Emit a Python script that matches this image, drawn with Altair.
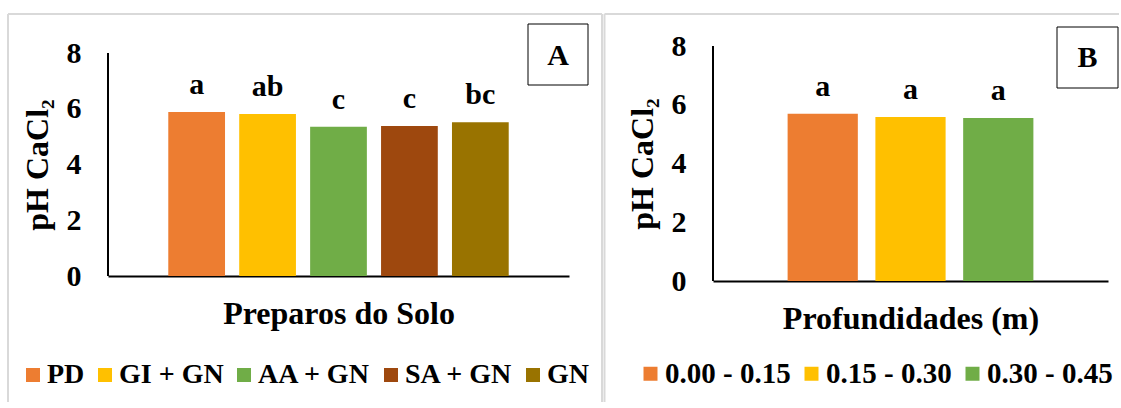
import altair as alt
import pandas as pd

# ---- data ----
cats_a = ["PD", "GI + GN", "AA + GN", "SA + GN", "GN"]
vals_a = [5.88, 5.81, 5.35, 5.38, 5.52]
letters_a = ["a", "ab", "c", "c", "bc"]
colors_a = ["#ED7D31", "#FFC000", "#70AD47", "#9E480E", "#997300"]

cats_b = ["0.00 - 0.15", "0.15 - 0.30", "0.30 - 0.45"]
vals_b = [5.69, 5.58, 5.55]
letters_b = ["a", "a", "a"]
colors_b = ["#ED7D31", "#FFC000", "#70AD47"]

y_ticks = [0, 2, 4, 6, 8]
y_title = "pH CaCl₂"

FONT = "Liberation Serif"
GRAY = "#D9D9D9"
one = pd.DataFrame({"k": [0]})


def hrule(x1, x2, yv, color=GRAY, sw=2):
    return alt.Chart(one).mark_rule(color=color, strokeWidth=sw, strokeCap="butt").encode(
        x=alt.value(x1), x2=alt.value(x2), y=alt.value(yv))


def vrule(xv, y1, y2, color=GRAY, sw=2):
    return alt.Chart(one).mark_rule(color=color, strokeWidth=sw, strokeCap="butt").encode(
        x=alt.value(xv), y=alt.value(y1), y2=alt.value(y2))


def panel(cats, vals, letters, colors, xtitle, tag, w, h, ymax, title_y,
          frame, right_rule, box, tag_xy, leg_xy, leg_font):
    df = pd.DataFrame({"cat": cats, "val": vals, "lab": letters})
    x = alt.X("cat:N", sort=cats,
              scale=alt.Scale(paddingInner=0.2, paddingOuter=0.85),
              axis=alt.Axis(labels=False, ticks=False, tickSize=0, grid=False,
                            domainColor="#000", domainWidth=2,
                            title=xtitle, titleFont=FONT, titleFontSize=32,
                            titleFontWeight="bold", titleColor="#000",
                            titleY=47, titleBaseline="alphabetic"))
    y = alt.Y("val:Q", scale=alt.Scale(domain=[0, ymax], nice=False, zero=True),
              axis=alt.Axis(values=y_ticks, ticks=False, tickSize=0, grid=False,
                            domain=False,
                            labelFont=FONT, labelFontSize=30, labelFontWeight="bold",
                            labelColor="#000", labelPadding=27, labelBound=False,
                            labelOverlap=False, labelFlush=False,
                            title=y_title, titleFont=FONT, titleFontSize=32,
                            titleFontWeight="bold", titleColor="#000",
                            titleAngle=270, titleX=-61, titleY=title_y,
                            titleBaseline="alphabetic", titleAlign="center"))
    color = alt.Color("cat:N", sort=cats,
                      scale=alt.Scale(domain=cats, range=colors),
                      legend=alt.Legend(title=None, orient="none",
                                        legendX=leg_xy[0], legendY=leg_xy[1],
                                        direction="horizontal", symbolType="square",
                                        symbolSize=196, symbolStrokeWidth=0,
                                        labelFont=FONT, labelFontSize=leg_font,
                                        labelFontWeight="bold", labelColor="#000",
                                        labelOffset=0, columnPadding=6, padding=0,
                                        labelLimit=400))
    bars = alt.Chart(df).mark_bar().encode(x=x, y=y, color=color)
    text = alt.Chart(df).mark_text(dy=-18, baseline="alphabetic", font=FONT,
                                   fontSize=30, fontWeight="bold", color="#000").encode(
        x=alt.X("cat:N", sort=cats), y="val:Q", text="lab:N")
    yline = alt.Chart(one).mark_rule(color="#000", strokeWidth=2).encode(
        x=alt.value(0), y=alt.datum(y_ticks[0]), y2=alt.datum(y_ticks[-1]))
    fx1, fx2, fy1, fy2 = frame
    deco = [hrule(fx1, fx2, fy1), vrule(fx1, fy1, fy2)]
    if right_rule is not None:
        deco.append(vrule(right_rule, fy1, fy2))
    bx1, bx2, by1, by2 = box
    boxm = alt.Chart(one).mark_rect(fill="white", stroke="#000", strokeWidth=1).encode(
        x=alt.value(bx1), x2=alt.value(bx2), y=alt.value(by1), y2=alt.value(by2))
    tagm = alt.Chart(one).mark_text(font=FONT, fontSize=30, fontWeight="bold",
                                    color="#000", baseline="alphabetic", align="center").encode(
        x=alt.value(tag_xy[0]), y=alt.value(tag_xy[1]), text=alt.value(tag))
    return alt.layer(bars, text, yline, *deco, boxm, tagm).properties(width=w, height=h)


# Both plot origins at y=46; panel A origin x=108, panel B origin x=713
pa = panel(cats_a, vals_a, letters_a, colors_a, "Preparos do Solo", "A", 461, 230,
           ymax=8 * 230 / 223, title_y=118.5,
           frame=(-100, 494, -32, 356), right_rule=494, box=(420, 480, -22, 39),
           tag_xy=(450, 19), leg_xy=(-89, 315), leg_font=28)
pb = panel(cats_b, vals_b, letters_b, colors_b, "Profundidades (m)", "B", 395, 235,
           ymax=8, title_y=117.5,
           frame=(-108.5, 406, -32, 356), right_rule=None, box=(344, 405, -19, 42),
           tag_xy=(374.5, 20.5), leg_xy=(-77, 313), leg_font=29)

chart = alt.hconcat(pa, pb, spacing=0).resolve_scale(
    x="independent", y="independent", color="independent").resolve_legend(
    color="independent").properties(
    padding={"left": 7, "top": 13, "right": 0, "bottom": 0},
    background="white").configure_view(strokeWidth=0)

chart.save("out.html", embed_options={"renderer": "svg", "actions": False})
